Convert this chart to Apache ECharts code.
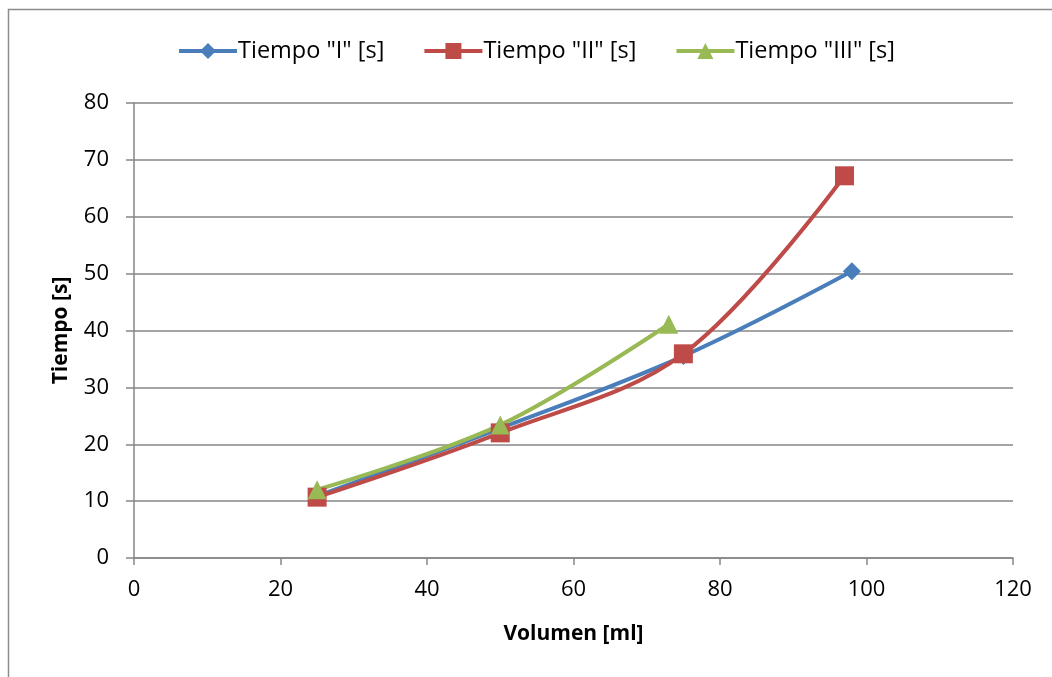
<!DOCTYPE html>
<html><head><meta charset="utf-8">
<script src="https://cdn.jsdelivr.net/npm/echarts@6/dist/echarts.min.js"></script>
<style>html,body{margin:0;padding:0;background:#fff}#c{width:1052px;height:677px}</style>
</head><body><div id="c"></div>
<script>
const seriesNames = ['Tiempo "I" [s]', 'Tiempo "II" [s]', 'Tiempo "III" [s]'];
const serieI = [[25, 10.9], [50, 22.8], [75, 35.5], [98, 50.4]];
const serieII = [[25, 10.7], [50, 22.0], [75, 35.9], [97, 67.2]];
const serieIII = [[25, 12.0], [50, 23.4], [73, 41.1]];
const xTicks = [0, 20, 40, 60, 80, 100, 120];
const yTicks = [0, 10, 20, 30, 40, 50, 60, 70, 80];

const font = '"Open Sans", Lato, sans-serif';
const colors = ['#4A7EBB', '#BE4B48', '#98B954'];
const chart = echarts.init(document.getElementById('c'));
const mk = (name, data, color, symbol, size) => ({
  name, type: 'line', data, smooth: 0.35, symbol, symbolSize: size,
  lineStyle: { width: 4, color }, itemStyle: { color }, z: 3
});
chart.setOption({
  animation: false,
  textStyle: { fontFamily: font },
  graphic: [{ type: 'rect', shape: { x: 8.5, y: 9.5, width: 1200, height: 800 },
    style: { fill: 'none', stroke: '#8c8c8c', lineWidth: 1.5 }, silent: true }],
  legend: {
    top: 34, left: 172, itemGap: 38, itemWidth: 58, itemHeight: 20,
    lineStyle: { width: 4 },
    textStyle: { fontSize: 23.5, color: '#000', fontFamily: font, padding: [0, 0, 0, -4] },
    data: seriesNames
  },
  grid: { left: 134, right: 39, top: 103, bottom: 119 },
  xAxis: {
    type: 'value', min: xTicks[0], max: xTicks[xTicks.length - 1], interval: 20,
    name: 'Volumen [ml]', nameLocation: 'middle', nameGap: 66,
    nameTextStyle: { fontSize: 21, fontWeight: 'bold', color: '#000' },
    axisLine: { show: true, lineStyle: { color: '#868686', width: 1.5 } },
    axisTick: { show: true, length: 7, lineStyle: { color: '#868686', width: 1.5 } },
    axisLabel: { fontSize: 22, color: '#000', margin: 21 },
    splitLine: { show: false }
  },
  yAxis: {
    type: 'value', min: yTicks[0], max: yTicks[yTicks.length - 1], interval: 10,
    name: 'Tiempo [s]', nameLocation: 'middle', nameGap: 62, nameRotate: 90,
    nameTextStyle: { fontSize: 21, fontWeight: 'bold', color: '#000' },
    axisLine: { show: true, lineStyle: { color: '#868686', width: 1.5 } },
    axisTick: { show: true, length: 8, lineStyle: { color: '#868686', width: 1.5 } },
    axisLabel: { fontSize: 22, color: '#000', margin: 25 },
    splitLine: { show: true, lineStyle: { color: '#868686', width: 1.5 } }
  },
  series: [
    mk(seriesNames[0], serieI, colors[0], 'diamond', 18),
    mk(seriesNames[1], serieII, colors[1], 'rect', 19),
    mk(seriesNames[2], serieIII, colors[2], 'triangle', 19)
  ]
});
</script></body></html>
